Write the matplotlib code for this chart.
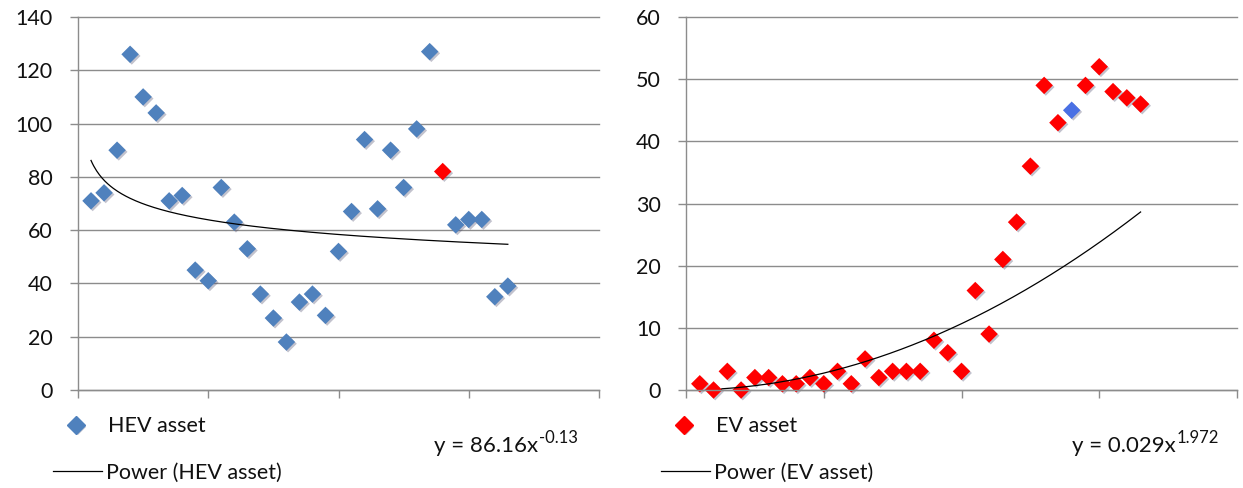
import numpy as np
import matplotlib
matplotlib.use("Agg")
import matplotlib.pyplot as plt
import matplotlib.patheffects as pe
from matplotlib.lines import Line2D
from matplotlib.transforms import IdentityTransform

plt.rcParams['font.family'] = ['Lato', 'DejaVu Sans']

# ---- data -------------------------------------------------------------
hev_x = list(range(1, 34))
hev_values = [71, 74, 90, 126, 110, 104, 71, 73, 45, 41, 76, 63, 53, 36, 27,
              18, 33, 36, 28, 52, 67, 94, 68, 90, 76, 98, 127, 82, 62, 64,
              64, 35, 39]
hev_highlight_x = 28
hev_fit_a, hev_fit_b = 86.16, -0.13
hev_fit_range = (1, 33)
hev_yticks = [0, 20, 40, 60, 80, 100, 120, 140]

ev_x = list(range(1, 34))
ev_values = [1, 0, 3, 0, 2, 2, 1, 1, 2, 1, 3, 1, 5, 2, 3, 3, 3, 8, 6, 3,
             16, 9, 21, 27, 36, 49, 43, 45, 49, 52, 48, 47, 46]
ev_highlight_x = 28
ev_fit_a, ev_fit_b = 0.029, 1.972
ev_fit_range = (2.6, 33)
ev_yticks = [0, 10, 20, 30, 40, 50, 60]

x_ticks = [0, 10, 20, 30, 40]

# ---- style --------------------------------------------------------------
W, H = 1243, 488
BLUE = '#4f81bd'
RED = '#ff0000'
BRIGHT_BLUE = '#4a70e4'
GRID = '#8c8c8c'
TEXT = '#111111'
FS = 15.5
MS = 8.9

fig = plt.figure(figsize=(W / 100, H / 100), dpi=100)


def fx(px):
    return px / W


def fy(py):
    return 1 - py / H


shadow = [pe.SimplePatchShadow(offset=(1.2, -1.2), shadow_rgbFace='#505070', alpha=0.35),
          pe.Normal()]


def panel(left_px, right_px, xs, ys, base_col, hi_x, hi_col, yticks,
          fit_a, fit_b, fit_range, series, eq_main, eq_exp):
    top_px, bottom_px = 17, 390
    ax = fig.add_axes([fx(left_px), fy(bottom_px),
                       (right_px - left_px) / W, (bottom_px - top_px) / H])
    ax.set_xlim(x_ticks[0], x_ticks[-1])
    ax.set_ylim(yticks[0], yticks[-1])
    ax.set_xticks(x_ticks)
    ax.set_xticklabels([])
    ax.set_yticks(yticks)
    ax.yaxis.grid(True, color=GRID, lw=1.0)
    for gl in ax.get_ygridlines():
        gl.set_clip_on(False)
    ax.set_axisbelow(True)
    for s in ('top', 'right'):
        ax.spines[s].set_visible(False)
    for s in ('left', 'bottom'):
        ax.spines[s].set_color(GRID)
        ax.spines[s].set_linewidth(1.0)
    ax.tick_params(axis='both', direction='out', length=5.8, width=1.0,
                   color=GRID, labelsize=FS, pad=12.5, labelcolor=TEXT)

    colors = [hi_col if x == hi_x else base_col for x in xs]
    sc = ax.scatter(xs, ys, marker='D', s=MS ** 2, c=colors, linewidths=0,
                    zorder=2, clip_on=False)
    sc.set_path_effects(shadow)

    xf = np.linspace(fit_range[0], fit_range[1], 300)
    ax.plot(xf, fit_a * xf ** fit_b, color='black', lw=0.9, zorder=3)

    # legend
    off = left_px - 78
    fig.add_artist(Line2D([fx(76 + off)], [fy(425)], marker='D', ms=MS,
                          color=base_col, ls='none', transform=fig.transFigure,
                          path_effects=shadow))
    fig.text(fx(108 + off), fy(432), series, fontsize=FS,
             va='baseline', ha='left', color=TEXT)
    fig.add_artist(Line2D([fx(53 + off), fx(102 + off)], [fy(471), fy(471)],
                          color='black', lw=0.9, transform=fig.transFigure))
    fig.text(fx(106 + off), fy(479), f'Power ({series})', fontsize=FS,
             va='baseline', ha='left', color=TEXT)

    # fitted equation, exponent placed after the main text once it is laid out
    main = fig.text(fx(right_px - 165), fy(452), eq_main, fontsize=FS + 0.5,
                    va='baseline', ha='left', color=TEXT)
    exp_txt = fig.text(0, 0, eq_exp, fontsize=12, color=TEXT,
                       ha='left', va='center')
    return main, exp_txt


def place_exponents(pairs):
    fig.canvas.draw()
    r = fig.canvas.get_renderer()
    for main, exp_txt in pairs:
        bb = main.get_window_extent(r)
        exp_txt.set_transform(IdentityTransform())
        exp_txt.set_position((bb.x1 + 1, bb.y0 + 0.88 * bb.height))


eq_hev = panel(78, 599, hev_x, hev_values, BLUE, hev_highlight_x, RED,
               hev_yticks, hev_fit_a, hev_fit_b, hev_fit_range, 'HEV asset',
               'y = 86.16x', '-0.13')
eq_ev = panel(686, 1237, ev_x, ev_values, RED, ev_highlight_x, BRIGHT_BLUE,
              ev_yticks, ev_fit_a, ev_fit_b, ev_fit_range, 'EV asset',
              'y = 0.029x', '1.972')
place_exponents([eq_hev, eq_ev])

fig.savefig('out.png', dpi=100)
